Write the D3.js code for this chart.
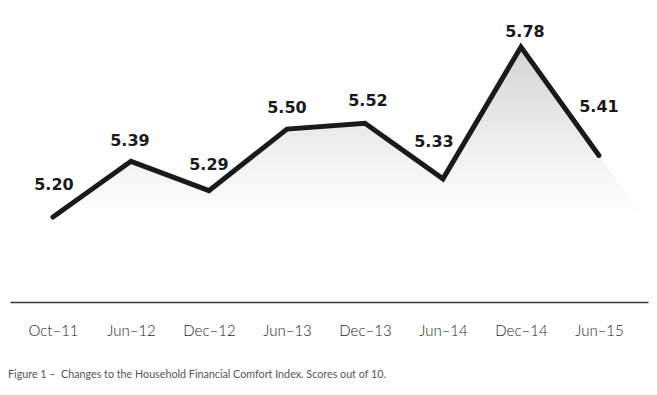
<!DOCTYPE html>
<html>
<head>
<meta charset="utf-8">
<script src="https://cdn.jsdelivr.net/npm/d3@7"></script>
<style>
  html, body { margin: 0; padding: 0; background: #fff; }
  svg { display: block; }
</style>
</head>
<body>
<script>
'use strict';

// data
const periods = ['Oct–11', 'Jun–12', 'Dec–12', 'Jun–13', 'Dec–13', 'Jun–14', 'Dec–14', 'Jun–15'];
const scores = [5.20, 5.39, 5.29, 5.50, 5.52, 5.33, 5.78, 5.41];
const scoreLabels = ['5.20', '5.39', '5.29', '5.50', '5.52', '5.33', '5.78', '5.41'];
const caption = 'Figure 1 –  Changes to the Household Financial Comfort Index. Scores out of 10.';

// hand placement of the value labels (px nudges, baseline above the point)
const labelDx = [1, -1, 0, 0, 3, -9, 4, 0];
const labelRise = [27, 15, 21, 16, 17, 32, 10, 43];

(function() {
  const width = 657, height = 395;

  const svg = d3.select('body')
    .append('svg')
    .attr('width', width)
    .attr('height', height);

  const xScale = d3.scalePoint()
    .domain(periods)
    .range([10, 648])
    .padding(0.59)
    .align(0.467);

  const yScale = d3.scaleLinear()
    .domain([5.20, 5.78])
    .range([217, 47]);

  const rows = periods.map((p, i) => ({ period: p, score: scores[i], label: scoreLabels[i], i: i }));

  // gradient under the line
  const grad = svg.append('defs')
    .append('linearGradient')
    .attr('id', 'fade')
    .attr('gradientUnits', 'userSpaceOnUse')
    .attr('x1', 0).attr('x2', 0)
    .attr('y1', yScale(d3.max(scores)))
    .attr('y2', yScale(5.2) - 2);
  grad.append('stop').attr('offset', 0).attr('stop-color', '#d4d4d4');
  grad.append('stop').attr('offset', 0.55).attr('stop-color', '#ededed');
  grad.append('stop').attr('offset', 1).attr('stop-color', '#ffffff');

  // the shaded area carries on past the last point along the last segment
  const n = rows.length;
  const last = rows[n - 1], prev = rows[n - 2];
  const lx = xScale(last.period), ly = yScale(last.score);
  const px = xScale(prev.period), py = yScale(prev.score);
  const k = 0.55;
  const areaPts = rows.map(d => [xScale(d.period), yScale(d.score)]);
  areaPts.push([lx + (lx - px) * k, ly + (ly - py) * k]);

  const area = d3.area()
    .x(d => d[0])
    .y0(yScale(5.2) + 4)
    .y1(d => d[1]);

  svg.append('path')
    .attr('d', area(areaPts))
    .attr('fill', 'url(#fade)');

  // x axis
  const xAxis = d3.axisBottom(xScale)
    .tickSize(0)
    .tickSizeOuter(0)
    .tickPadding(23);

  const gx = svg.append('g')
    .attr('transform', 'translate(0, 302)')
    .call(xAxis);
  gx.select('.domain')
    .attr('stroke', '#3a3a3a')
    .attr('stroke-width', 1.6);
  gx.selectAll('text')
    .attr('fill', '#1e1e1e')
    .style('font-family', 'Lato, "Noto Sans", sans-serif')
    .style('font-size', '15px')
    .style('font-weight', 300);

  // the line
  const line = d3.line()
    .x(d => xScale(d.period))
    .y(d => yScale(d.score));

  svg.append('path')
    .attr('d', line(rows))
    .attr('fill', 'none')
    .attr('stroke', '#1a1a1a')
    .attr('stroke-width', 5)
    .attr('stroke-linejoin', 'miter')
    .attr('stroke-linecap', 'round');

  // value labels
  svg.selectAll('.val')
    .data(rows)
    .enter()
    .append('text')
      .attr('class', 'val')
      .attr('x', d => xScale(d.period) + labelDx[d.i])
      .attr('y', d => yScale(d.score) - labelRise[d.i])
      .attr('text-anchor', 'middle')
      .attr('fill', '#1a1a1a')
      .style('font-family', '"DejaVu Sans", sans-serif')
      .style('font-size', '16px')
      .style('font-weight', 700)
      .text(d => d.label);

  // caption
  svg.append('text')
    .attr('x', 8)
    .attr('y', 378)
    .attr('fill', '#555')
    .attr('textLength', 378)
    .attr('lengthAdjust', 'spacingAndGlyphs')
    .style('font-family', 'Lato, "Noto Sans", sans-serif')
    .style('font-size', '11px')
    .style('font-weight', 400)
    .style('white-space', 'pre')
    .text(caption);
})();
</script>
</body>
</html>
